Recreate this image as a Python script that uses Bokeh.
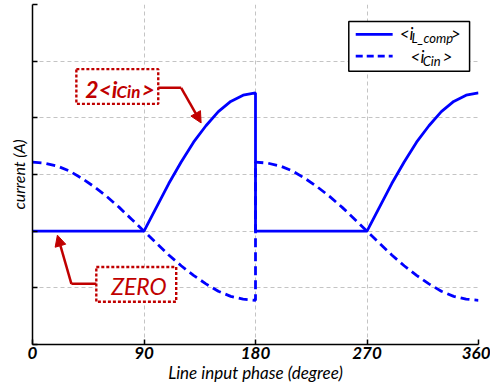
from bokeh.plotting import figure
from bokeh.models import (Range1d, FixedTicker, Label, BoxAnnotation, Arrow, NormalHead,
                          CustomJSTickFormatter)
from bokeh.embed import file_html
from bokeh.resources import INLINE

# ---- data ----
phase = [0, 10, 20, 30, 40, 50, 60, 70, 80, 90, 100, 110, 120, 130, 140, 150, 160, 170, 180,
         180, 190, 200, 210, 220, 230, 240, 250, 260, 270, 280, 290, 300, 310, 320, 330, 340, 350, 360]
i_cin = [1.22, 1.20, 1.15, 1.06, 0.93, 0.78, 0.61, 0.42, 0.21, 0.00, -0.21, -0.42, -0.61, -0.78, -0.93,
         -1.06, -1.15, -1.20, -1.22,
         1.22, 1.20, 1.15, 1.06, 0.93, 0.78, 0.61, 0.42, 0.21, 0.00, -0.21, -0.42, -0.61, -0.78, -0.93,
         -1.06, -1.15, -1.20, -1.22]
i_l_comp = [0, 0, 0, 0, 0, 0, 0, 0, 0, 0, 0.42, 0.84, 1.22, 1.57, 1.86, 2.11, 2.29, 2.40, 2.44,
            0, 0, 0, 0, 0, 0, 0, 0, 0, 0, 0.42, 0.84, 1.22, 1.57, 1.86, 2.11, 2.29, 2.40, 2.44]
x_ticks = [0, 90, 180, 270, 360]
y_ticks = [-2, -1, 0, 1, 2, 3, 4]
y_grid = [-1, 0, 1, 2, 3]

FONT = "Lato"
RED = "#C00000"
BLUE = "#0000FF"

p = figure(frame_width=446, frame_height=340, output_backend="svg", toolbar_location=None,
           x_range=Range1d(0, 360), y_range=Range1d(-2, 4),
           min_border_left=32, min_border_right=12, min_border_top=4, min_border_bottom=10)
p.outline_line_color = None
p.background_fill_color = "white"

# axes
p.xaxis.ticker = FixedTicker(ticks=x_ticks)
p.yaxis.ticker = FixedTicker(ticks=y_ticks)
for ax in (p.xaxis, p.yaxis):
    ax.axis_line_color = "black"
    ax.axis_line_width = 1.5
    ax.major_tick_line_color = "black"
    ax.major_tick_line_width = 1.5
    ax.major_tick_in = 5
    ax.major_tick_out = 0
    ax.minor_tick_line_color = None
    ax.axis_label_text_font = FONT
    ax.axis_label_text_font_style = "italic"
    ax.axis_label_text_font_size = "17px"
    ax.axis_label_text_color = "black"
p.xaxis.major_label_text_font = FONT
p.xaxis.major_label_text_font_style = "bold italic"
p.xaxis.major_label_text_font_size = "17px"
p.xaxis.major_label_text_color = "black"
p.xaxis.major_label_standoff = 2
p.xaxis.axis_label = "Line input phase (degree)"
p.xaxis.axis_label_standoff = 0
p.yaxis.formatter = CustomJSTickFormatter(code="return ''")
p.yaxis.major_label_standoff = 0
p.yaxis.axis_label = "current (A)"
p.yaxis.axis_label_text_font_size = "16px"
p.yaxis.axis_label_standoff = 5

# grid
p.xgrid.ticker = FixedTicker(ticks=[90, 180, 270])
p.ygrid.ticker = FixedTicker(ticks=y_grid)
for g in (p.xgrid, p.ygrid):
    g.grid_line_color = "#C4C4C4"
    g.grid_line_dash = "4 3"
    g.grid_line_width = 1

# curves
p.line(phase, i_cin, line_color=BLUE, line_width=2.8, line_dash="9 5")
p.line(phase, i_l_comp, line_color=BLUE, line_width=2.8)

# ---- legend (manual, for subscripts) ----
p.add_layout(BoxAnnotation(left=255.3, right=352.8, top=3.70, bottom=2.82, fill_color="white",
                           fill_alpha=1, line_color="black", line_alpha=1, line_width=1.5))
p.add_layout(Arrow(end=None, x_start=260.9, y_start=3.474, x_end=290.7, y_end=3.474,
                   line_color=BLUE, line_width=2.8))
p.add_layout(Arrow(end=None, x_start=260.9, y_start=3.088, x_end=290.7, y_end=3.088,
                   line_color=BLUE, line_width=2.8, line_dash="7 4"))

DY = 0.11  # compensate baseline placement

def lab(x, y, t, size, style="italic", color="black"):
    p.add_layout(Label(x=x, y=y + DY, text=t, text_font=FONT, text_font_size=size,
                       text_font_style=style, text_color=color,
                       text_baseline="alphabetic", text_align="left"))

lab(296.4, 3.386, "<i", "17px")
lab(306.0, 3.30, "L_comp", "13px")
lab(337.5, 3.386, ">", "17px")
lab(305.2, 2.98, "<i", "17px")
lab(314.9, 2.895, "Cin", "13px")
lab(331.0, 2.98, ">", "17px")

# ---- callout "2<iCin>" ----
p.add_layout(BoxAnnotation(left=35.4, right=101.5, top=2.86, bottom=2.246, fill_color="white",
                           fill_alpha=1, line_color=RED, line_alpha=1, line_width=2.4, line_dash="3 2"))
lab(42.5, 2.40, "2<i", "23px", "bold italic", RED)
lab(67.8, 2.35, "Cin", "17px", "bold italic", RED)
lab(88.0, 2.40, ">", "23px", "bold italic", RED)
p.add_layout(Arrow(end=None, x_start=101.5, y_start=2.53, x_end=120.0, y_end=2.53,
                   line_color=RED, line_width=2.5))
p.add_layout(Arrow(end=NormalHead(size=11, fill_color=RED, line_color=RED),
                   x_start=120.0, y_start=2.53, x_end=136.1, y_end=1.91,
                   line_color=RED, line_width=2.5))

# ---- callout "ZERO" ----
p.add_layout(BoxAnnotation(left=51.5, right=116.0, top=-0.632, bottom=-1.246, fill_color="white",
                           fill_alpha=1, line_color=RED, line_alpha=1, line_width=2.4, line_dash="3 2"))
lab(63.5, -1.07, "ZERO", "23px", "italic", RED)
p.add_layout(Arrow(end=None, x_start=51.5, y_start=-0.93, x_end=31.4, y_end=-0.93,
                   line_color=RED, line_width=2.5))
p.add_layout(Arrow(end=NormalHead(size=11, fill_color=RED, line_color=RED),
                   x_start=31.4, y_start=-0.93, x_end=20.1, y_end=-0.07,
                   line_color=RED, line_width=2.5))

open("out.html", "w").write(file_html(p, INLINE))
